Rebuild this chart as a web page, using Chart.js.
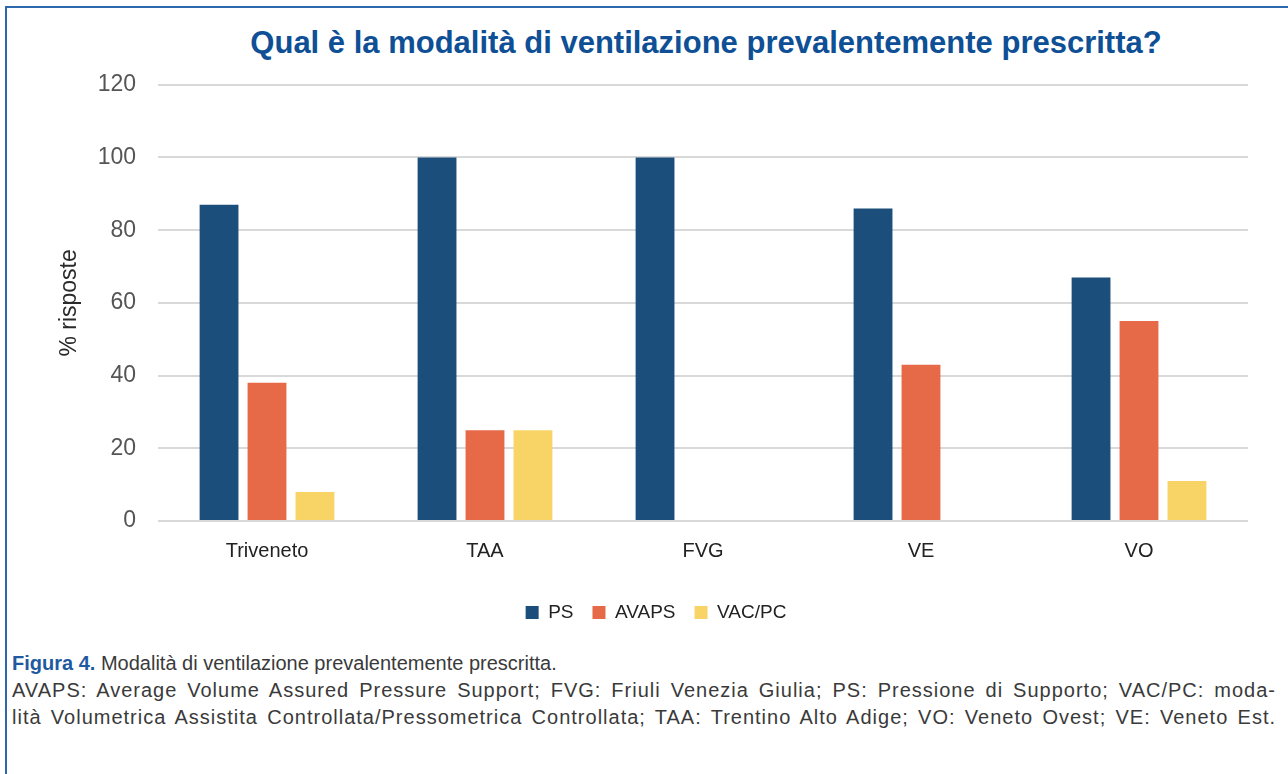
<!DOCTYPE html>
<html>
<head>
<meta charset="utf-8">
<script src="https://cdn.jsdelivr.net/npm/chart.js@4.4.1/dist/chart.umd.min.js"></script>
<style>
  body { margin: 0; background: #fff; width: 1288px; height: 774px; overflow: hidden; position: relative; font-family: "Liberation Sans", Arial, sans-serif; }
  #frame { position: absolute; left: 5px; top: 6px; right: 0; bottom: 0; border-left: 2px solid #2d68ad; border-top: 2px solid #2d68ad; }
  #title { position: absolute; left: 206px; width: 1000px; top: 25px; text-align: center; color: #0e4f95; font-size: 31px; font-weight: bold; }
  #chartBox { position: absolute; left: 30px; top: 49px; width: 1252px; height: 585px; }
  #caption { position: absolute; left: 12px; width: 1264px; top: 650px; color: #3a3a3a; font-size: 20px; line-height: 27px; }
  #caption div { white-space: nowrap; }
  #caption .just { text-align: justify; text-align-last: justify; letter-spacing: 1px; }
  #caption b { color: #1f5aa0; font-weight: bold; }
</style>
</head>
<body>
<div id="frame"></div>
<div id="title">Qual è la modalità di ventilazione prevalentemente prescritta?</div>
<div id="chartBox"><canvas id="myChart"></canvas></div>
<div id="caption">
  <div><b>Figura 4.</b> Modalità di ventilazione prevalentemente prescritta.</div>
  <div class="just">AVAPS: Average Volume Assured Pressure Support; FVG: Friuli Venezia Giulia; PS: Pressione di Supporto; VAC/PC: moda-</div>
  <div class="just">lità Volumetrica Assistita Controllata/Pressometrica Controllata; TAA: Trentino Alto Adige; VO: Veneto Ovest; VE: Veneto Est.</div>
</div>
<script>
// DATI
const regioni = ["Triveneto", "TAA", "FVG", "VE", "VO"];
const valoriPS = [87, 100, 100, 86, 67];
const valoriAVAPS = [38, 25, 0, 43, 55];
const valoriVAC = [8, 25, 0, 0, 11];
const tickY = [0, 20, 40, 60, 80, 100, 120];

const labelFont = "'Liberation Sans', Arial, sans-serif";

const data = {
    labels: regioni,
    datasets: [
        { label: 'PS', data: valoriPS, backgroundColor: '#1c4e7b' },
        { label: 'AVAPS', data: valoriAVAPS, backgroundColor: '#e76a48' },
        { label: 'VAC/PC', data: valoriVAC, backgroundColor: '#f8d466' }
    ]
};

const config = {
    type: 'bar',
    data: data,
    options: {
        responsive: true,
        maintainAspectRatio: false,
        animation: false,
        layout: { padding: { top: 14, left: 34, right: 34, bottom: 2 } },
        datasets: { bar: { categoryPercentage: 0.66, barPercentage: 0.81 } },
        plugins: {
            tooltip: { enabled: false },
            legend: {
                position: 'bottom',
                labels: {
                    boxWidth: 13,
                    boxHeight: 13,
                    padding: 19,
                    color: '#222',
                    font: { family: labelFont, size: 19 }
                }
            }
        },
        scales: {
            x: {
                afterFit: (scale) => { scale.height += 11; },
                grid: { display: false },
                border: { display: false },
                ticks: { color: '#222', padding: 10, font: { family: labelFont, size: 20 } }
            },
            y: {
                min: 0,
                max: 120,
                afterBuildTicks: (scale) => { scale.ticks = tickY.map(v => ({ value: v })); },
                afterFit: (scale) => { scale.width = 94; },
                grid: { color: '#d9d9d9', lineWidth: 2, drawTicks: false },
                border: { display: false },
                ticks: { color: '#555', padding: 22, font: { family: labelFont, size: 23 } },
                title: {
                    display: true,
                    text: '% risposte',
                    color: '#2a2a2a',
                    padding: { top: -8, bottom: 0 },
                    font: { family: labelFont, size: 23 }
                }
            }
        }
    }
};

const myChart = new Chart(document.getElementById('myChart'), config);
</script>
</body>
</html>
